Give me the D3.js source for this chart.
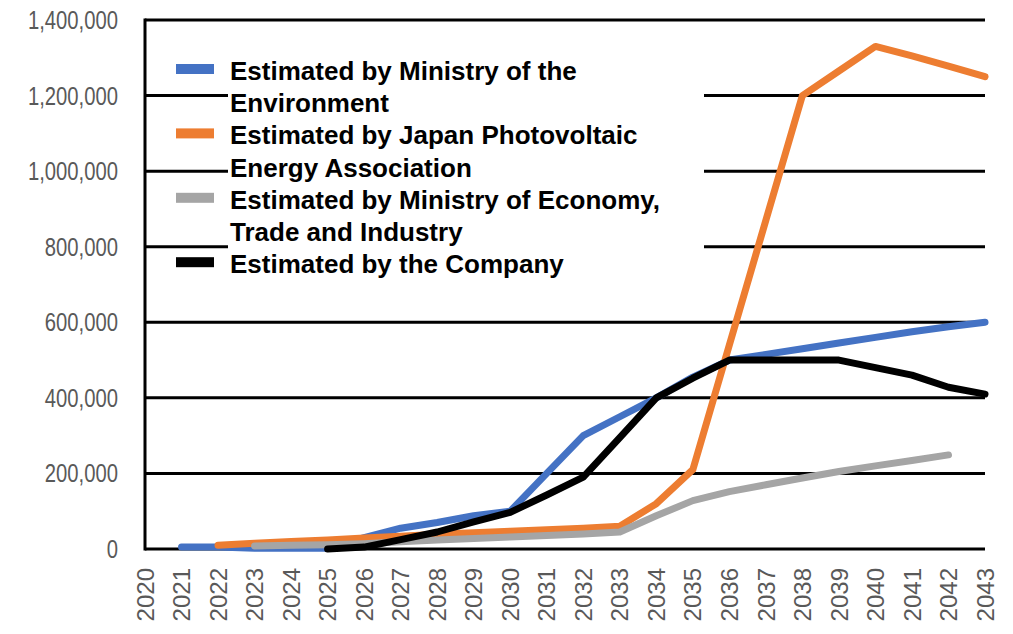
<!DOCTYPE html>
<html>
<head>
<meta charset="utf-8">
<script src="https://cdn.jsdelivr.net/npm/d3@7"></script>
<style>
  body { margin: 0; background: #fff; }
  svg { display: block; }
</style>
</head>
<body>
<script>
// values
var years = d3.range(2020, 2044);

var envValues = [null, 5000, 5000, 2000, 2000, 2000, 30000, 55000, 70000, 88000, 100000,
  200000, 300000, 350000, 400000, 455000, 500000, 515000, 530000, 545000, 560000,
  575000, 588000, 600000];
var jpeaValues = [null, null, 10000, 15000, 20000, 24000, 29000, 34000, 39000, 43000, 47000,
  51000, 55000, 60000, 120000, 210000, 540000, 870000, 1200000, 1265000, 1330000,
  1305000, 1278000, 1250000];
var metiValues = [null, null, null, 8000, 10000, 11000, 14000, 19000, 24000, 28000, 32000,
  36000, 40000, 45000, 88000, 128000, 152000, 170000, 188000, 205000, 220000,
  234000, 249000, null];
var companyValues = [null, null, null, null, null, 0, 5000, 25000, 45000, 72000, 97000,
  143000, 190000, 295000, 400000, 452000, 500000, 500000, 500000, 500000, 480000,
  460000, 428000, 410000];

var seriesNames = [
  "Estimated by Ministry of the Environment",
  "Estimated by Japan Photovoltaic Energy Association",
  "Estimated by Ministry of Economy, Trade and Industry",
  "Estimated by the Company"
];
var legendLines = [
  ["Estimated by Ministry of the", "Environment"],
  ["Estimated by Japan Photovoltaic", "Energy Association"],
  ["Estimated by Ministry of Economy,", "Trade and Industry"],
  ["Estimated by the Company"]
];
var colors = ["#4472C4", "#ED7D31", "#A5A5A5", "#000000"];
var yTicks = [0, 200000, 400000, 600000, 800000, 1000000, 1200000, 1400000];

var width = 1013,
    height = 634,
    margin = {top: 20, right: 28, bottom: 85, left: 145};

var x = d3.scaleLinear()
    .domain([2020, 2043])
    .range([margin.left, width - margin.right]);

var y = d3.scaleLinear()
    .domain([0, 1400000])
    .range([height - margin.bottom, margin.top]);

var formatNumber = d3.format(",d");

var svg = d3.select("body").append("svg")
    .attr("width", width)
    .attr("height", height);

// gridlines
svg.append("g")
  .selectAll("line")
    .data(yTicks)
  .enter().append("line")
    .attr("x1", margin.left)
    .attr("x2", width - margin.right)
    .attr("y1", function(d) { return y(d); })
    .attr("y2", function(d) { return y(d); })
    .attr("stroke", "#000")
    .attr("stroke-width", 3);

// y axis line
svg.append("line")
    .attr("x1", x(2020))
    .attr("x2", x(2020))
    .attr("y1", y(1400000) - 1.5)
    .attr("y2", y(0) + 1.5)
    .attr("stroke", "#000")
    .attr("stroke-width", 3);

// y tick labels (squeezed sideways, the reference font is narrow)
svg.append("g")
  .selectAll("text")
    .data(yTicks)
  .enter().append("text")
    .attr("transform", function(d) { return "translate(118," + y(d) + ") scale(0.81,1)"; })
    .attr("dy", "0.36em")
    .attr("text-anchor", "end")
    .style("font-family", "'Liberation Sans', Arial, sans-serif")
    .style("font-size", "25px")
    .style("fill", "#595959")
    .text(function(d) { return formatNumber(d); });

// x tick labels, rotated
svg.append("g")
  .selectAll("text")
    .data(years)
  .enter().append("text")
    .attr("transform", function(d) { return "translate(" + x(d) + "," + 568 + ") rotate(-90)"; })
    .attr("dy", "0.36em")
    .attr("text-anchor", "end")
    .style("font-family", "'Liberation Sans', Arial, sans-serif")
    .style("font-size", "24px")
    .style("fill", "#595959")
    .text(function(d) { return d; });

// legend box (white, sits over the gridlines)
svg.append("rect")
    .attr("x", 228)
    .attr("y", 52)
    .attr("width", 476)
    .attr("height", 230)
    .attr("fill", "#fff");

// series lines
var allValues = [envValues, jpeaValues, metiValues, companyValues];

var line = d3.line()
    .defined(function(d) { return d != null; })
    .x(function(d, i) { return x(years[i]); })
    .y(function(d) { return y(d); });

svg.append("g")
  .selectAll("path")
    .data(allValues)
  .enter().append("path")
    .attr("d", line)
    .attr("fill", "none")
    .attr("stroke", function(d, i) { return colors[i]; })
    .attr("stroke-width", 7)
    .attr("stroke-linejoin", "round")
    .attr("stroke-linecap", "round")
  .append("title")
    .text(function(d, i) { return seriesNames[i]; });

// legend
var lineHeight = 32.2;
var startRow = [0, 2, 4, 6];

var legend = svg.append("g")
  .selectAll("g")
    .data(legendLines)
  .enter().append("g")
    .attr("transform", function(d, i) { return "translate(0," + (80 + startRow[i] * lineHeight) + ")"; });

legend.append("rect")
    .attr("x", 176)
    .attr("y", -16)
    .attr("width", 38)
    .attr("height", 10)
    .attr("fill", function(d, i) { return colors[i]; });

legend.selectAll("text")
    .data(function(d) { return d; })
  .enter().append("text")
    .attr("x", 230)
    .attr("y", function(d, j) { return j * lineHeight; })
    .style("font-family", "'Liberation Sans', Arial, sans-serif")
    .style("font-weight", "bold")
    .style("font-size", "26px")
    .style("fill", "#000")
    .text(function(d) { return d; });
</script>
</body>
</html>
